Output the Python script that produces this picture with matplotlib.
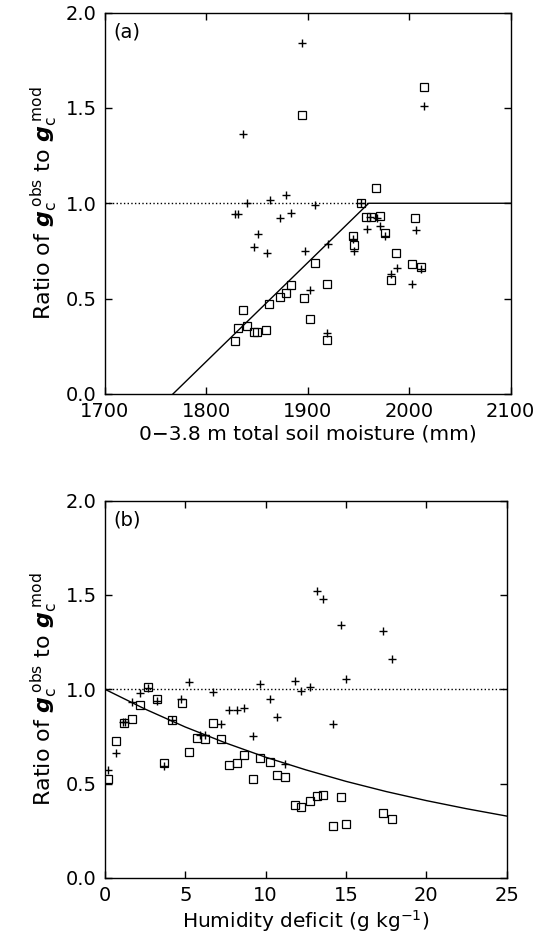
import matplotlib
matplotlib.use('Agg')
import matplotlib.pyplot as plt
import numpy as np

plt.rcParams['font.family'] = ['DejaVu Sans']
plt.rcParams['mathtext.fontset'] = 'dejavusans'

# panel (a): soil moisture (mm) vs ratio
soil_plus = [1894, 2015, 1836, 1840, 1863, 1878, 1907, 1828, 1831, 1873, 1883,
             1851, 1847, 1860, 1897, 1920, 1902, 1919, 1952, 1961, 1968, 1958,
             1971, 1976, 1945, 1946, 2007, 1988, 1982, 2012, 2003]
ratio_plus_a = [1.84, 1.51, 1.364, 1.0, 1.017, 1.045, 0.993, 0.943, 0.943, 0.925, 0.948,
                0.838, 0.77, 0.74, 0.75, 0.784, 0.547, 0.319, 1.0, 0.93, 0.925, 0.866,
                0.88, 0.83, 0.81, 0.75, 0.86, 0.66, 0.627, 0.655, 0.577]
soil_sq = [2015, 1894, 1967, 1952, 1957, 1962, 1971, 2006, 1976, 1945, 1946, 1987,
           2003, 2012, 1982, 1907, 1919, 1883, 1878, 1873, 1896, 1862, 1836, 1902,
           1831, 1840, 1847, 1850, 1859, 1828, 1919]
ratio_sq_a = [1.61, 1.463, 1.08, 1.0, 0.93, 0.93, 0.935, 0.925, 0.845, 0.828, 0.78, 0.74,
              0.68, 0.665, 0.6, 0.688, 0.577, 0.571, 0.531, 0.51, 0.505, 0.474, 0.44, 0.395,
              0.347, 0.359, 0.324, 0.327, 0.334, 0.279, 0.282]
model_a_x = [1767, 1960, 2100]
model_a_y = [0.0, 1.0, 1.0]

# panel (b): humidity deficit (g/kg) vs ratio
hd_plus = [13.21, 13.54, 14.67, 17.33, 17.85, 15.0, 11.81, 12.77, 12.19, 9.67, 10.25,
           10.73, 14.17, 11.19, 9.21, 8.67, 8.19, 7.73, 7.23, 6.71, 5.25, 4.73, 4.17,
           3.21, 2.69, 2.21, 1.71, 1.1, 1.25, 0.67, 0.17, 3.69, 5.9, 6.21]
ratio_plus_b = [1.52, 1.48, 1.339, 1.307, 1.16, 1.055, 1.046, 1.014, 0.989, 1.028, 0.947,
                0.855, 0.817, 0.606, 0.752, 0.90, 0.888, 0.888, 0.817, 0.986, 1.037, 0.949, 0.835,
                0.938, 1.007, 0.979, 0.933, 0.824, 0.824, 0.663, 0.574, 0.594, 0.76, 0.76]
hd_sq = [2.69, 3.21, 2.21, 4.77, 1.67, 1.19, 4.17, 6.71, 0.67, 5.71, 6.21, 7.23, 5.21,
         3.69, 0.17, 8.65, 7.75, 8.23, 9.67, 10.25, 9.21, 10.71, 11.19, 11.81, 12.19,
         12.75, 13.21, 13.54, 14.69, 14.17, 15.0, 17.33, 17.85]
ratio_sq_b = [1.014, 0.949, 0.917, 0.926, 0.84, 0.823, 0.837, 0.821, 0.725, 0.741, 0.736,
              0.736, 0.667, 0.608, 0.525, 0.651, 0.601, 0.608, 0.635, 0.613, 0.527, 0.548,
              0.535, 0.388, 0.374, 0.41, 0.434, 0.44, 0.429, 0.278, 0.287, 0.342, 0.314]
model_b_x = [0, 2.5, 5, 7.5, 10, 12.5, 15, 17.5, 20, 22.5, 25]
model_b_y = [1.0, 0.895, 0.80, 0.716, 0.64, 0.573, 0.512, 0.458, 0.41, 0.367, 0.328]

ylab = (r'Ratio of $\mathbfit{g}_{\rm c}^{\;\rm obs}$ to '
        r'$\mathbfit{g}_{\rm c}^{\;\rm mod}$')

fig = plt.figure(figsize=(5.41, 9.41), dpi=100)
ax1 = fig.add_axes([0.194, 0.5813, 0.750, 0.4054])
ax2 = fig.add_axes([0.194, 0.0670, 0.7425, 0.401])

fs = 14
lfs = 14.5
sq = dict(ls='none', marker='s', ms=5.5, mfc='none', mec='black', mew=0.9)
pl = dict(ls='none', marker='+', ms=5.5, color='black', mew=1.0)

# (a)
ax1.plot([1700, 1960], [1, 1], ls=':', color='black', lw=1.0)
ax1.plot(model_a_x, model_a_y, color='black', lw=1.0)
ax1.plot(soil_sq, ratio_sq_a, **sq)
ax1.plot(soil_plus, ratio_plus_a, **pl)
ax1.set_xlim(1700, 2100)
ax1.set_xticks([1700, 1800, 1900, 2000, 2100])
ax1.set_xlabel('0\u22123.8 m total soil moisture (mm)', fontsize=lfs, labelpad=2)
ax1.text(0.02, 0.975, '(a)', transform=ax1.transAxes, fontsize=fs, va='top')

# (b)
ax2.plot([0, 25], [1, 1], ls=':', color='black', lw=1.0)
ax2.plot(model_b_x, model_b_y, color='black', lw=1.0)
ax2.plot(hd_sq, ratio_sq_b, **sq)
ax2.plot(hd_plus, ratio_plus_b, **pl)
ax2.set_xlim(0, 25)
ax2.set_xticks([0, 5, 10, 15, 20, 25])
ax2.set_xlabel(r'Humidity deficit (g kg$^{-1}$)', fontsize=lfs, labelpad=2)
ax2.text(0.02, 0.975, '(b)', transform=ax2.transAxes, fontsize=fs, va='top')

for ax in (ax1, ax2):
    ax.set_ylim(0, 2.0)
    ax.set_yticks([0.0, 0.5, 1.0, 1.5, 2.0])
    ax.set_yticklabels(['0.0', '0.5', '1.0', '1.5', '2.0'])
    ax.tick_params(direction='in', top=True, right=True, length=5, width=1.0,
                   labelsize=fs, pad=6)
    ax.set_ylabel(ylab, fontsize=16, labelpad=4)
    for s in ax.spines.values():
        s.set_linewidth(1.0)

fig.savefig('out.png', dpi=100)
